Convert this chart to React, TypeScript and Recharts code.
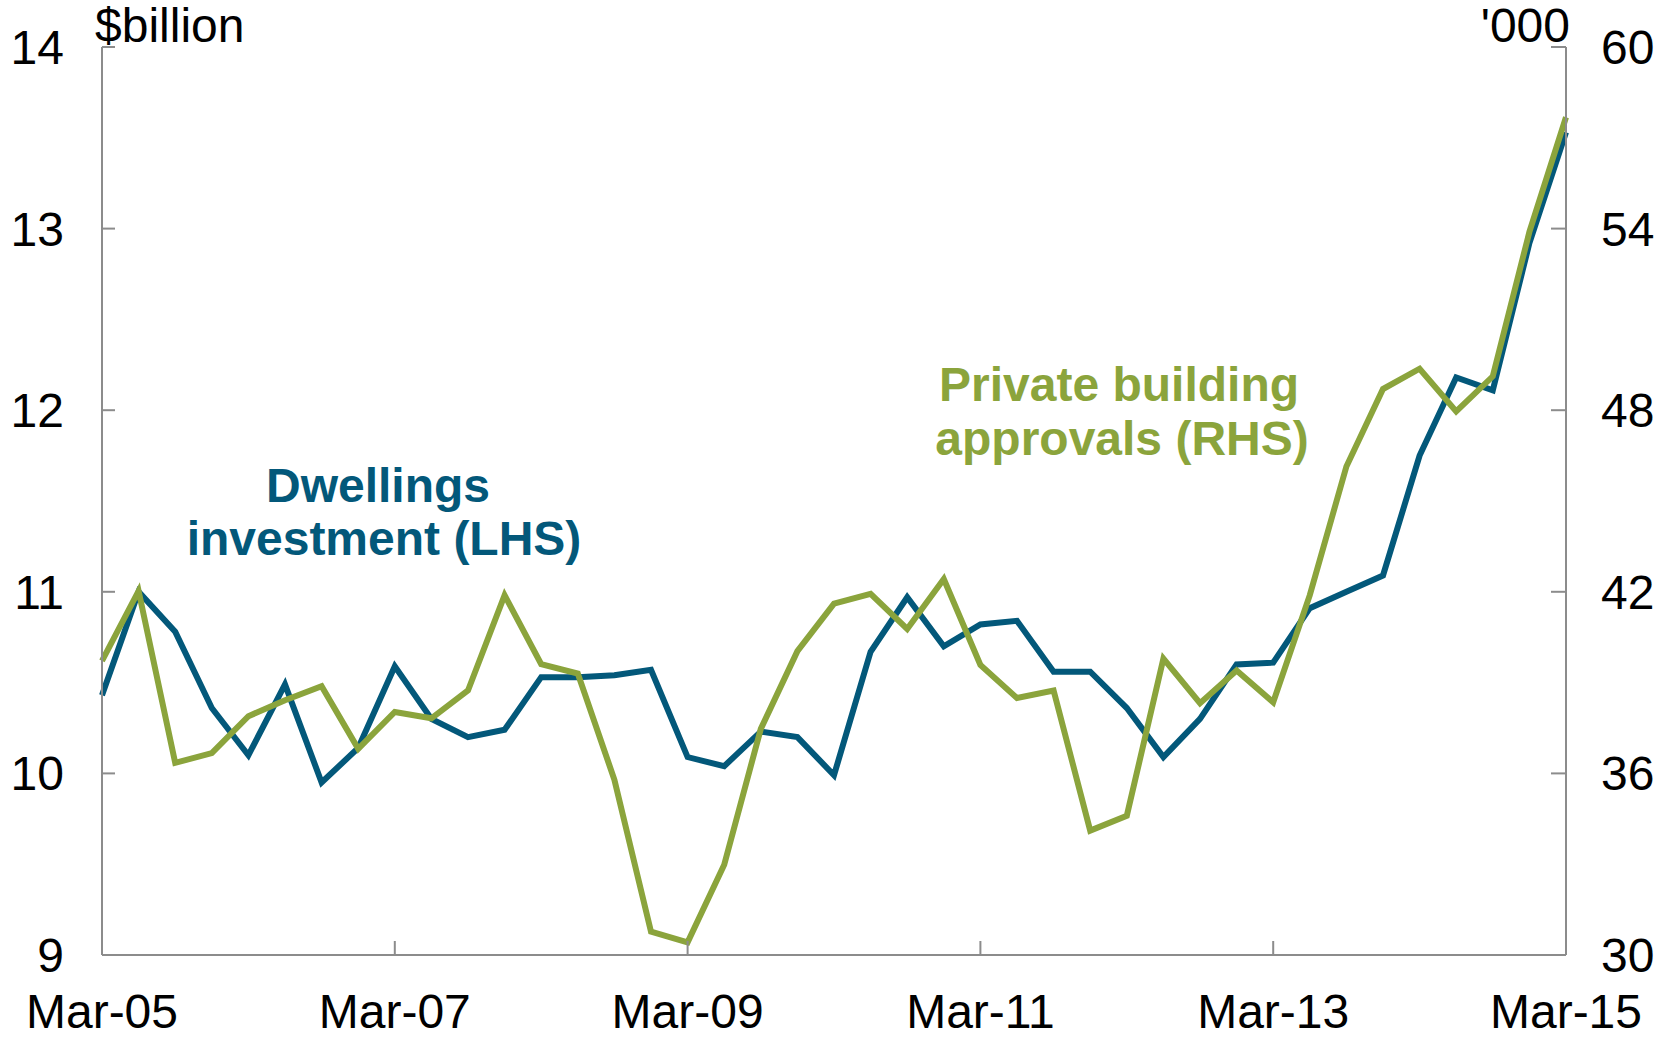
import { Line, LineChart, XAxis, YAxis } from "recharts";

const FONT = '"Liberation Sans", Arial, sans-serif';
const BLUE = "#03587a";
const GREEN = "#8ba43c";
const AXIS = "#8c8c8c";

const quarters = [
  "Mar-05", "Jun-05", "Sep-05", "Dec-05",
  "Mar-06", "Jun-06", "Sep-06", "Dec-06",
  "Mar-07", "Jun-07", "Sep-07", "Dec-07",
  "Mar-08", "Jun-08", "Sep-08", "Dec-08",
  "Mar-09", "Jun-09", "Sep-09", "Dec-09",
  "Mar-10", "Jun-10", "Sep-10", "Dec-10",
  "Mar-11", "Jun-11", "Sep-11", "Dec-11",
  "Mar-12", "Jun-12", "Sep-12", "Dec-12",
  "Mar-13", "Jun-13", "Sep-13", "Dec-13",
  "Mar-14", "Jun-14", "Sep-14", "Dec-14",
  "Mar-15",
];

// $billion, left axis
const dwellings = [
  10.43, 11.0, 10.78, 10.36, 10.1, 10.49, 9.95, 10.14,
  10.59, 10.3, 10.2, 10.24, 10.53, 10.53, 10.54, 10.57,
  10.09, 10.04, 10.23, 10.2, 9.99, 10.67, 10.97, 10.7,
  10.82, 10.84, 10.56, 10.56, 10.36, 10.09, 10.3, 10.6,
  10.61, 10.91, 11.0, 11.09, 11.75, 12.18, 12.11, 12.92,
  13.53,
];

// '000, right axis
const approvals = [
  39.72, 42.03, 36.35, 36.67, 37.89, 38.42, 38.88, 36.81,
  38.03, 37.82, 38.74, 41.89, 39.61, 39.3, 35.79, 30.77,
  30.42, 32.98, 37.47, 40.04, 41.61, 41.93, 40.77, 42.42,
  39.58, 38.49, 38.74, 34.11, 34.6, 39.79, 38.32, 39.4,
  38.35, 41.89, 46.14, 48.7, 49.37, 47.96, 49.12, 53.89,
  57.68,
];

const leftTicks = [9, 10, 11, 12, 13, 14];
const rightTicks = [30, 36, 42, 48, 54, 60];

const data = quarters.map((q, i) => ({ date: q, dwellings: dwellings[i], approvals: approvals[i] }));

const tickStyle = { fill: "#000", fontSize: 48, fontFamily: FONT };

export default function App() {
  return (
    <div style={{ position: "absolute", left: 0, top: 0, width: 1665, height: 1038, background: "#fff" }}>
      <LineChart width={1665} height={1038} data={data} margin={{ top: 47, right: 0, bottom: 0, left: 0 }}>
        <XAxis
          dataKey="date"
          interval={7}
          height={83}
          axisLine={{ stroke: AXIS, strokeWidth: 2 }}
          tickLine={{ stroke: AXIS, strokeWidth: 2 }}
          tickSize={-14}
          tickMargin={53}
          tick={tickStyle}
        />
        <YAxis
          yAxisId="left"
          domain={[9, 14]}
          ticks={leftTicks}
          interval={0}
          width={102}
          axisLine={{ stroke: AXIS, strokeWidth: 2 }}
          tickLine={{ stroke: AXIS, strokeWidth: 2 }}
          tickSize={-13}
          tickMargin={51}
          tick={tickStyle}
        />
        <YAxis
          yAxisId="right"
          orientation="right"
          domain={[30, 60]}
          ticks={rightTicks}
          interval={0}
          width={99}
          axisLine={{ stroke: AXIS, strokeWidth: 2 }}
          tickLine={{ stroke: AXIS, strokeWidth: 2 }}
          tickSize={-15}
          tickMargin={50}
          tick={tickStyle}
        />
        <Line yAxisId="left" type="linear" dataKey="dwellings" stroke={BLUE} strokeWidth={6} dot={false} activeDot={false} isAnimationActive={false} />
        <Line yAxisId="right" type="linear" dataKey="approvals" stroke={GREEN} strokeWidth={6} dot={false} activeDot={false} isAnimationActive={false} />
      </LineChart>
      <svg width={1665} height={1038} style={{ position: "absolute", left: 0, top: 0, pointerEvents: "none" }}>
        <g fontFamily={FONT} fontSize={48}>
          <text x={95} y={42} fill="#000">$billion</text>
          <text x={1570} y={42} fill="#000" textAnchor="end">'000</text>
        </g>
        <g fontFamily={FONT} fontSize={48} fontWeight="bold" textAnchor="middle">
          <text x={378} y={502} fill={BLUE}>Dwellings</text>
          <text x={384} y={555} fill={BLUE}>investment (LHS)</text>
          <text x={1119} y={401} fill={GREEN}>Private building</text>
          <text x={1122} y={455} fill={GREEN}>approvals (RHS)</text>
        </g>
      </svg>
    </div>
  );
}
